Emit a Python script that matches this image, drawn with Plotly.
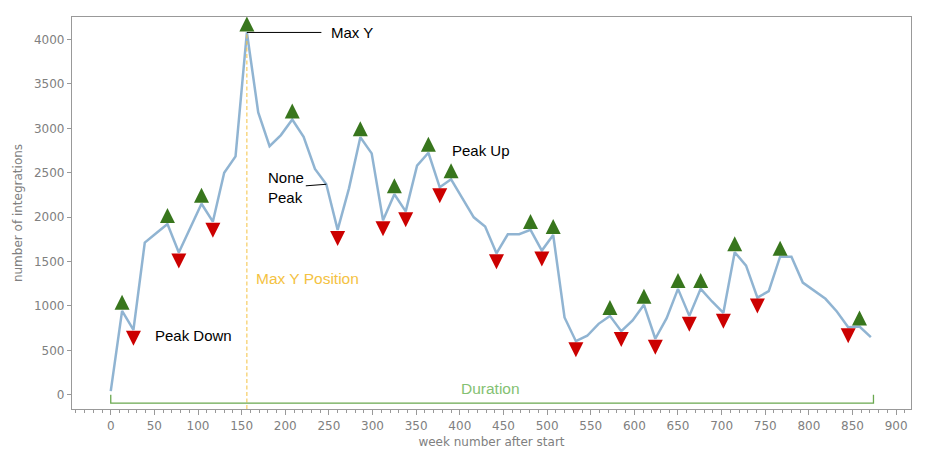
import plotly.graph_objects as go

# ---- data ----
weeks = [0, 13, 26, 39, 52, 65, 78, 91, 104, 117, 130, 143, 156, 169, 182, 195, 208, 221,
         234, 247, 260, 273, 286, 299, 312, 325, 338, 351, 364, 377, 390, 403, 416, 429,
         442, 455, 468, 481, 494, 507, 520, 533, 546, 559, 572, 585, 598, 611, 624, 637,
         650, 663, 676, 689, 702, 715, 728, 741, 754, 767, 780, 793, 806, 819, 832, 845,
         858, 871]
integrations = [40, 945, 731, 1713, 1818, 1923, 1601, 1877, 2151, 1949, 2500, 2684, 4080,
                3180, 2800, 2924, 3100, 2905, 2542, 2370, 1856, 2324, 2900, 2718, 1965, 2258,
                2065, 2579, 2725, 2336, 2426, 2212, 1998, 1893, 1593, 1807, 1807, 1856, 1623,
                1799, 870, 603, 664, 798, 888, 716, 836, 1012, 630, 862, 1192, 888, 1192,
                1050, 922, 1605, 1454, 1094, 1166, 1555, 1555, 1263, 1170, 1080, 937, 759,
                768, 649]
peak_up_weeks = [13, 65, 104, 156, 208, 286, 325, 364, 390, 481, 507, 572, 611, 650, 676,
                 715, 767, 858]
peak_down_weeks = [26, 78, 117, 260, 312, 338, 377, 442, 494, 533, 585, 624, 663, 702, 741,
                   845]
none_peak_week = 247
y_ticks = [0, 500, 1000, 1500, 2000, 2500, 3000, 3500, 4000]
x_ticks = list(range(0, 901, 50))

# ---- styling constants ----
MARK_OFF = 180          # vertical offset of the peak markers (data units)
Y_RANGE = [-161, 4254]
X_RANGE = [-44.4, 917]
GREY = "#808080"
FRAME = "#999999"
ANN_FONT = "Liberation Sans, Arial, sans-serif"

lookup = dict(zip(weeks, integrations))
max_i = integrations.index(max(integrations))
max_x, max_y = weeks[max_i], integrations[max_i]
start_x, end_x = weeks[0], weeks[-1]

fig = go.Figure()

# main line
fig.add_trace(go.Scatter(
    x=weeks, y=integrations, mode="lines",
    line=dict(color="rgba(70,130,180,0.6)", width=2.5),
    hoverinfo="skip", showlegend=False))

# Max Y position dashed line
fig.add_trace(go.Scatter(
    x=[max_x, max_x], y=[Y_RANGE[0], max_y], mode="lines",
    line=dict(color="#f4c242", width=1, dash="4px,2.5px"),
    hoverinfo="skip", showlegend=False))

# Duration bracket
fig.add_trace(go.Scatter(
    x=[start_x, start_x, end_x + 3, end_x + 3], y=[0, -95, -95, 0], mode="lines",
    line=dict(color="#6aa84f", width=1.3),
    hoverinfo="skip", showlegend=False))

# peak up markers
fig.add_trace(go.Scatter(
    x=peak_up_weeks, y=[lookup[w] + MARK_OFF for w in peak_up_weeks], mode="markers",
    marker=dict(symbol="arrow-up", size=15, color="#38761d", line=dict(width=0)),
    hoverinfo="skip", showlegend=False))

# peak down markers
fig.add_trace(go.Scatter(
    x=peak_down_weeks, y=[lookup[w] - MARK_OFF for w in peak_down_weeks], mode="markers",
    marker=dict(symbol="arrow-down", size=15, color="#cc0000", line=dict(width=0)),
    hoverinfo="skip", showlegend=False))

annotations = [
    dict(x=max_x, y=max_y, text="Max Y", showarrow=True, arrowhead=0, arrowwidth=1,
         arrowcolor="black", ax=105, ay=0, borderpad=9,
         font=dict(size=15, color="black", family=ANN_FONT)),
    dict(x=none_peak_week, y=lookup[none_peak_week], text="None<br>Peak", align="left",
         showarrow=True, arrowhead=0, arrowwidth=1, arrowcolor="black", ax=-40, ay=3,
         font=dict(size=15, color="black", family=ANN_FONT)),
    dict(x=389, y=2756, text="Peak Up", showarrow=False, xanchor="left", yanchor="middle",
         font=dict(size=15, color="black", family=ANN_FONT)),
    dict(x=48, y=664, text="Peak Down", showarrow=False, xanchor="left", yanchor="middle",
         font=dict(size=15, color="black", family=ANN_FONT)),
    dict(x=164.5, y=1305, text="Max Y Position", showarrow=False, xanchor="left",
         yanchor="middle", font=dict(size=15.5, color="#f4c242", family=ANN_FONT)),
    dict(x=(start_x + end_x) / 2, y=75, text="Duration", showarrow=False, xanchor="center",
         yanchor="middle", font=dict(size=15.5, color="#84c172", family=ANN_FONT)),
]

fig.update_layout(
    width=925, height=464,
    margin=dict(l=72, r=14, t=17, b=55),
    plot_bgcolor="white", paper_bgcolor="white",
    font=dict(family="DejaVu Sans", size=12, color=GREY),
    annotations=annotations,
    showlegend=False,
)
fig.update_xaxes(
    range=X_RANGE, tickvals=x_ticks, ticks="outside", ticklen=5, tickwidth=1,
    tickcolor=FRAME, showline=True, linecolor=FRAME, linewidth=1.3, mirror=True,
    showgrid=False, zeroline=False,
    minor=dict(dtick=10, tick0=0, ticks="outside", ticklen=2.5, tickcolor=FRAME, showgrid=False),
    title=dict(text="week number after start", standoff=6,
               font=dict(size=12, color=GREY, family="DejaVu Sans")),
    tickfont=dict(size=12, color=GREY, family="DejaVu Sans"),
)
fig.update_yaxes(
    range=Y_RANGE, tickvals=y_ticks, ticks="outside", ticklen=4, tickwidth=1,
    tickcolor=FRAME, showline=True, linecolor=FRAME, linewidth=1.3, mirror=True,
    showgrid=False, zeroline=False,
    title=dict(text="number of integrations", standoff=8,
               font=dict(size=12, color=GREY, family="DejaVu Sans")),
    tickfont=dict(size=12, color=GREY, family="DejaVu Sans"),
)

fig.write_html("out.html")
